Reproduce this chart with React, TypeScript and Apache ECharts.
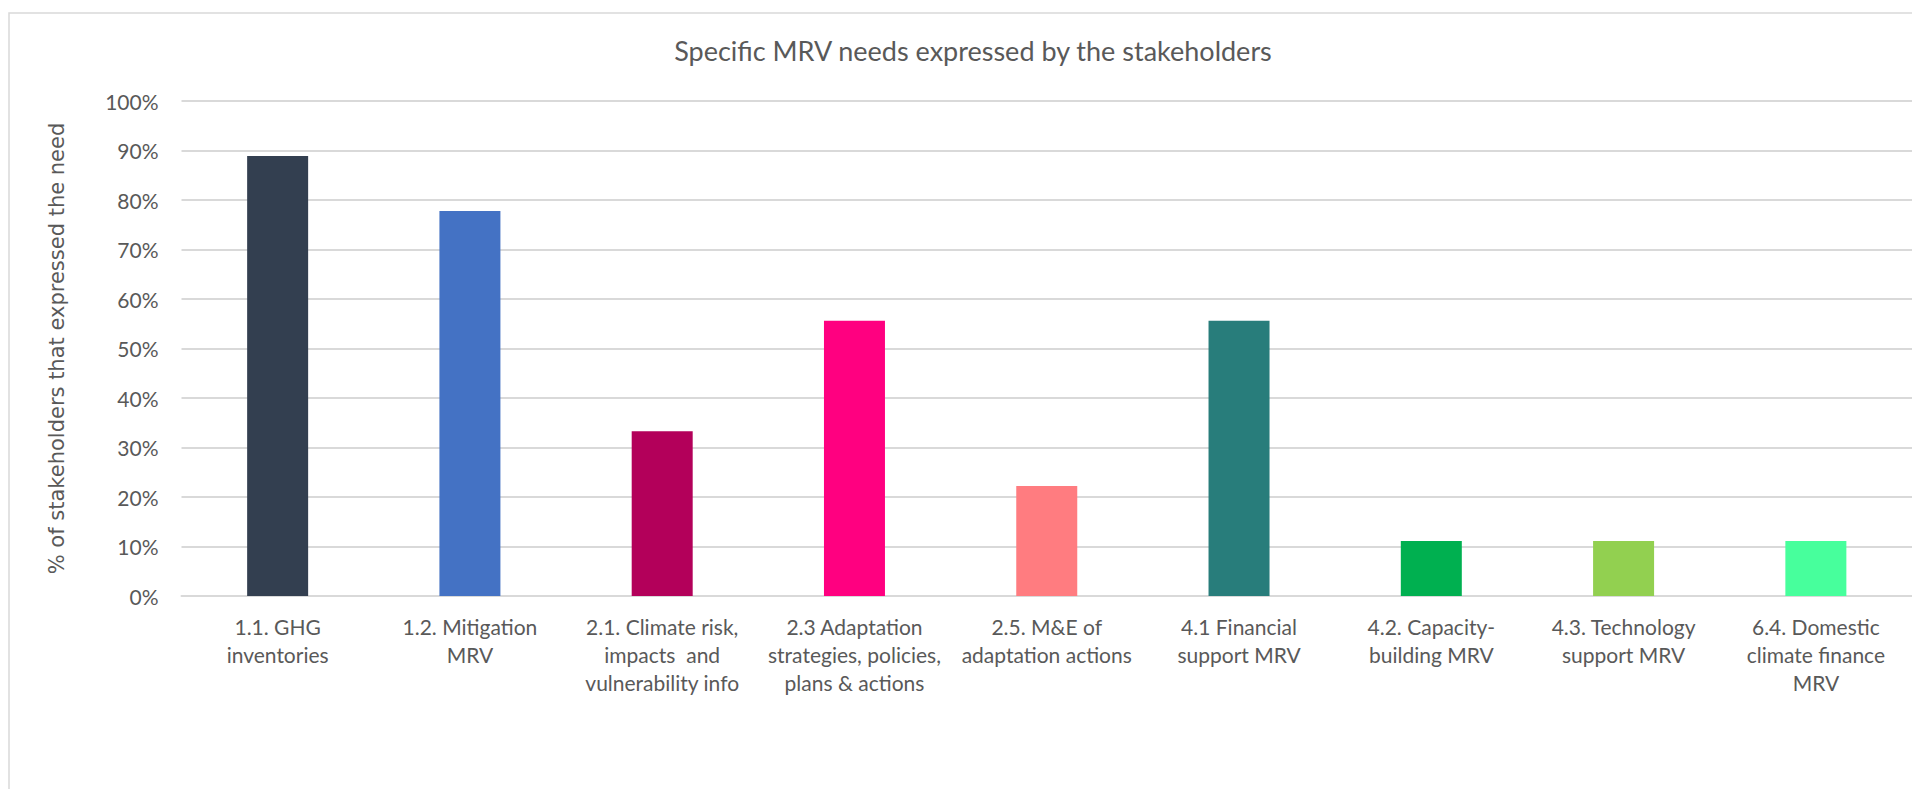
import React, { useEffect, useRef } from "react";
import * as echarts from "echarts";

// MRV need categories (line breaks as laid out under each bar)
const categories = [
  "1.1. GHG\ninventories",
  "1.2. Mitigation\nMRV",
  "2.1. Climate risk,\nimpacts  and\nvulnerability info",
  "2.3 Adaptation\nstrategies, policies,\nplans & actions",
  "2.5. M&E of\nadaptation actions",
  "4.1 Financial\nsupport MRV",
  "4.2. Capacity-\nbuilding MRV",
  "4.3. Technology\nsupport MRV",
  "6.4. Domestic\nclimate finance\nMRV",
];

// Share of stakeholders (%) that expressed each need
const shares = [88.9, 77.8, 33.3, 55.6, 22.2, 55.6, 11.1, 11.1, 11.1];

const barColors = [
  "#333F50",
  "#4472C4",
  "#B3005A",
  "#FF0080",
  "#FF7C80",
  "#287D7B",
  "#00B050",
  "#92D050",
  "#47FF9C",
];

const titleText = "Specific MRV needs expressed by the stakeholders";
const yAxisTitle = "% of stakeholders that expressed the need";

const TEXT_COLOR = "#595959";
const GRID_COLOR = "#D9D9D9";
const FONT = "Lato, 'Noto Sans', sans-serif";

export default function App() {
  const ref = useRef<HTMLDivElement>(null);

  useEffect(() => {
    if (!ref.current) return;
    const chart = echarts.init(ref.current, null, { renderer: "svg" });
    chart.setOption({
      animation: false,
      backgroundColor: "#ffffff",
      title: {
        text: titleText,
        left: 968,
        top: 32,
        textAlign: "center",
        textStyle: {
          fontFamily: FONT,
          fontSize: 27,
          fontWeight: "normal",
          color: TEXT_COLOR,
        },
      },
      graphic: [
        {
          type: "rect",
          silent: true,
          shape: { x: 9, y: 13, width: 1960, height: 820 },
          style: { fill: "none", stroke: GRID_COLOR, lineWidth: 1.5 },
        },
      ],
      grid: {
        left: 181.5,
        top: 101,
        width: 1738,
        height: 495,
        containLabel: false,
      },
      xAxis: {
        type: "category",
        data: categories,
        axisTick: { show: false },
        axisLine: { lineStyle: { color: GRID_COLOR, width: 2 } },
        axisLabel: {
          interval: 0,
          margin: 16,
          fontFamily: FONT,
          fontSize: 21,
          lineHeight: 28,
          color: TEXT_COLOR,
        },
      },
      yAxis: {
        type: "value",
        min: 0,
        max: 100,
        interval: 10,
        name: yAxisTitle,
        nameLocation: "middle",
        nameRotate: 90,
        nameGap: 114,
        nameTextStyle: {
          fontFamily: "'DejaVu Sans', sans-serif",
          fontSize: 21,
          color: TEXT_COLOR,
        },
        axisLine: { show: false },
        axisTick: { show: false },
        axisLabel: {
          formatter: "{value}%",
          margin: 23,
          fontFamily: FONT,
          fontSize: 21,
          color: TEXT_COLOR,
        },
        splitLine: { lineStyle: { color: GRID_COLOR, width: 2 } },
      },
      series: [
        {
          type: "bar",
          barWidth: 61,
          data: shares.map((v, i) => ({
            value: v,
            itemStyle: { color: barColors[i] },
          })),
        },
      ],
    });
    return () => chart.dispose();
  }, []);

  return (
    <div
      ref={ref}
      style={{ position: "fixed", left: 0, top: 0, width: 1912, height: 789 }}
    />
  );
}
